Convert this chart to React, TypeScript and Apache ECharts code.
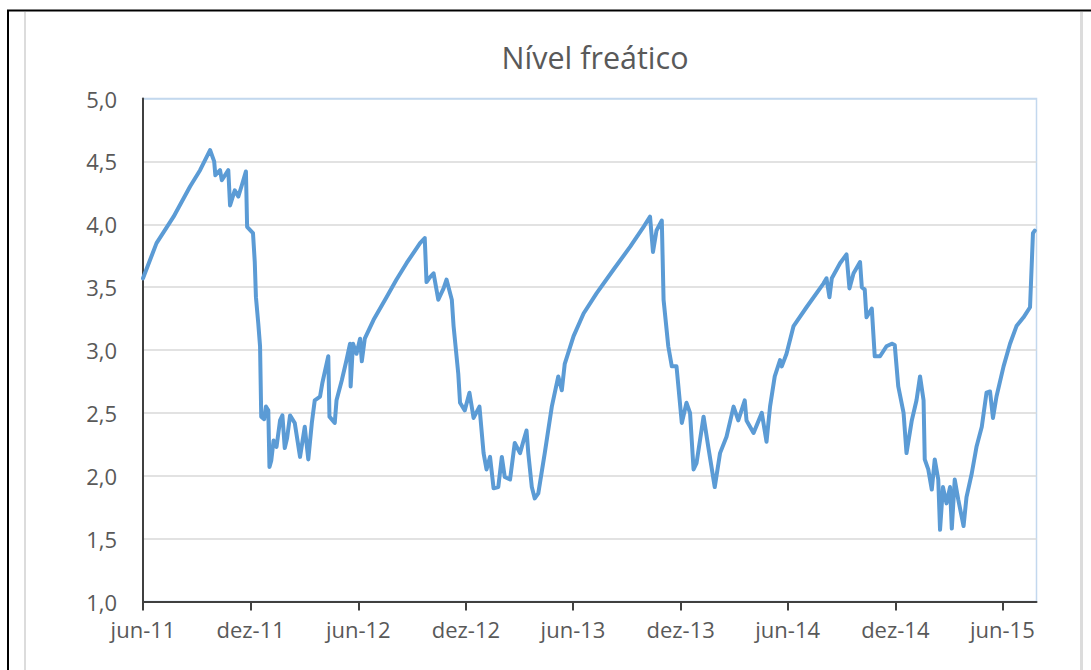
import React, { useEffect, useRef } from "react";
import * as echarts from "echarts";

// Axis origin date (first tick, jun-11)
const startDate = "2011-06-01";
// Tick dates and their labels
const xTickDates = [
  "2011-06-01", "2011-12-01", "2012-06-01", "2012-12-01", "2013-06-01",
  "2013-12-01", "2014-06-01", "2014-12-01", "2015-06-01",
];
const xTickLabels = [
  "jun-11", "dez-11", "jun-12", "dez-12", "jun-13",
  "dez-13", "jun-14", "dez-14", "jun-15",
];
const xAxisEndDay = 1519; // days after startDate where the axis ends

// Series: days after startDate, and water-table level
const dayOffsets = [
  0, 23, 52, 80, 97, 114, 121, 123, 131, 134, 145, 148, 156, 162, 168, 175, 177, 187,
  190, 192, 196, 199, 201, 206, 209, 213, 215, 218, 222, 227, 233, 237, 241, 245, 250,
  258, 267, 275, 281, 287, 292, 301, 305, 315, 317, 326, 329, 338, 346, 352, 353, 357,
  363, 369, 372, 377, 392, 414, 431, 448, 471, 479, 482, 488, 494, 502, 511, 516, 525,
  528, 536, 539, 547, 555, 562, 572, 579, 584, 590, 596, 604, 610, 615, 624, 632, 641,
  647, 652, 655, 661, 666, 672, 683, 695, 706, 712, 717, 732, 749, 771, 800, 828, 851,
  862, 867, 873, 882, 885, 893, 899, 907, 916, 924, 930, 936, 941, 953, 961, 972, 981,
  992, 1004, 1012, 1023, 1026, 1038, 1052, 1060, 1066, 1074, 1083, 1086, 1094, 1106,
  1128, 1157, 1162, 1167, 1171, 1185, 1196, 1201, 1208, 1219, 1222, 1227, 1230, 1239,
  1244, 1253, 1264, 1273, 1278, 1284, 1293, 1298, 1307, 1315, 1321, 1327, 1329, 1335,
  1341, 1346, 1352, 1355, 1360, 1366, 1372, 1375, 1380, 1386, 1395, 1400, 1409, 1417,
  1426, 1434, 1440, 1445, 1451, 1463, 1474, 1485, 1497, 1508, 1513, 1516,
];
const levels = [
  3.57, 3.85, 4.06, 4.30, 4.43, 4.59, 4.50, 4.39, 4.43, 4.35, 4.43, 4.15, 4.27, 4.22, 4.31, 4.42, 3.98, 3.93,
  3.70, 3.42, 3.21, 3.03, 2.47, 2.45, 2.55, 2.52, 2.07, 2.12, 2.28, 2.23, 2.44, 2.48, 2.22, 2.30, 2.48,
  2.42, 2.15, 2.39, 2.13, 2.42, 2.60, 2.63, 2.74, 2.95, 2.47, 2.42, 2.60, 2.76, 2.92, 3.05, 2.71, 3.05,
  2.97, 3.09, 2.91, 3.09, 3.24, 3.42, 3.56, 3.69, 3.85, 3.89, 3.54, 3.58, 3.61, 3.40, 3.49, 3.56, 3.40,
  3.19, 2.81, 2.58, 2.52, 2.66, 2.46, 2.55, 2.18, 2.05, 2.15, 1.90, 1.91, 2.15, 1.99, 1.97, 2.26, 2.18,
  2.28, 2.36, 2.18, 1.91, 1.82, 1.86, 2.18, 2.55, 2.79, 2.68, 2.89, 3.11, 3.29, 3.45, 3.64, 3.82, 3.98,
  4.06, 3.78, 3.95, 4.03, 3.40, 3.03, 2.87, 2.87, 2.42, 2.58, 2.50, 2.05, 2.10, 2.47, 2.23, 1.91, 2.18,
  2.31, 2.55, 2.44, 2.60, 2.44, 2.34, 2.50, 2.27, 2.55, 2.79, 2.92, 2.87, 2.97, 3.19,
  3.34, 3.53, 3.57, 3.42, 3.57, 3.69, 3.76, 3.49, 3.61, 3.70, 3.50, 3.48, 3.26, 3.33,
  2.95, 2.95, 3.03, 3.05, 3.04, 2.71, 2.50, 2.18, 2.44, 2.60, 2.79, 2.60, 2.13, 2.05,
  1.89, 2.13, 1.97, 1.57, 1.91, 1.78, 1.91, 1.58, 1.97, 1.81, 1.60, 1.83, 2.02, 2.23,
  2.39, 2.66, 2.67, 2.46, 2.63, 2.87, 3.05, 3.19, 3.26, 3.34, 3.93, 3.95,
];

const yMin = 1;
const yMax = 5;
const yStep = 0.5;

const DAY = 86400000;
const toDay = (d: string) => Math.round((Date.parse(d) - Date.parse(startDate)) / DAY);

export default function App() {
  const ref = useRef<HTMLDivElement>(null);

  useEffect(() => {
    if (!ref.current) return;
    const chart = echarts.init(ref.current, undefined, { renderer: "svg" });
    const tickDays = xTickDates.map(toDay);
    const font = "Open Sans";
    const nLines = Math.round((yMax - yMin) / yStep) + 1;
    const splitColors = Array.from({ length: nLines }, (_, i) =>
      i === nLines - 1 ? "#c3d8ee" : "#d9d9d9"
    );

    chart.setOption({
      animation: false,
      backgroundColor: "#ffffff",
      grid: {
        left: 143,
        right: 54.5,
        top: 98.5,
        bottom: 68.5,
        show: true,
        borderColor: "#c3d8ee",
        borderWidth: 1.5,
        backgroundColor: "transparent",
      },
      graphic: [
        { type: "rect", shape: { x: 7, y: 10, width: 2, height: 660 }, style: { fill: "#000" }, silent: true },
        { type: "rect", shape: { x: 7, y: 9.5, width: 1084, height: 2 }, style: { fill: "#000" }, silent: true },
        { type: "rect", shape: { x: 24, y: 12, width: 2, height: 658 }, style: { fill: "#dcdcdc" }, silent: true },
        { type: "rect", shape: { x: 1080, y: 12, width: 3, height: 658 }, style: { fill: "#dcdcdc" }, silent: true },
        {
          type: "text",
          x: 595,
          y: 57,
          style: {
            text: "Nível freático",
            fill: "#595959",
            fontSize: 30.5,
            fontFamily: font,
            textAlign: "center",
            textVerticalAlign: "middle",
          },
          silent: true,
        },
      ],
      xAxis: {
        type: "value",
        min: 0,
        max: xAxisEndDay,
        axisLine: { show: true, lineStyle: { color: "#404040", width: 2 } },
        axisTick: {
          show: true,
          length: 9,
          customValues: tickDays,
          lineStyle: { color: "#404040", width: 2 },
        },
        axisLabel: {
          customValues: tickDays,
          margin: 16,
          color: "#595959",
          fontSize: 22,
          fontFamily: font,
          formatter: (v: number) => {
            const i = tickDays.indexOf(Math.round(v));
            return i >= 0 ? xTickLabels[i] : "";
          },
        },
        splitLine: { show: false },
      },
      yAxis: {
        type: "value",
        min: yMin,
        max: yMax,
        interval: yStep,
        axisLine: { show: true, lineStyle: { color: "#404040", width: 2 } },
        axisTick: { show: false },
        axisLabel: {
          margin: 26,
          color: "#595959",
          fontSize: 22,
          fontFamily: font,
          formatter: (v: number) => v.toFixed(1).replace(".", ","),
        },
        splitLine: { show: true, lineStyle: { color: splitColors, width: 1.5 } },
      },
      series: [
        {
          type: "line",
          data: dayOffsets.map((d, i) => [d, levels[i]]),
          showSymbol: false,
          lineStyle: { color: "#5b9bd5", width: 4, cap: "round", join: "round" },
          z: 3,
        },
      ],
    });
    return () => chart.dispose();
  }, []);

  return (
    <div
      ref={ref}
      style={{ position: "fixed", left: 0, top: 0, width: 1091, height: 670, background: "#fff" }}
    />
  );
}
